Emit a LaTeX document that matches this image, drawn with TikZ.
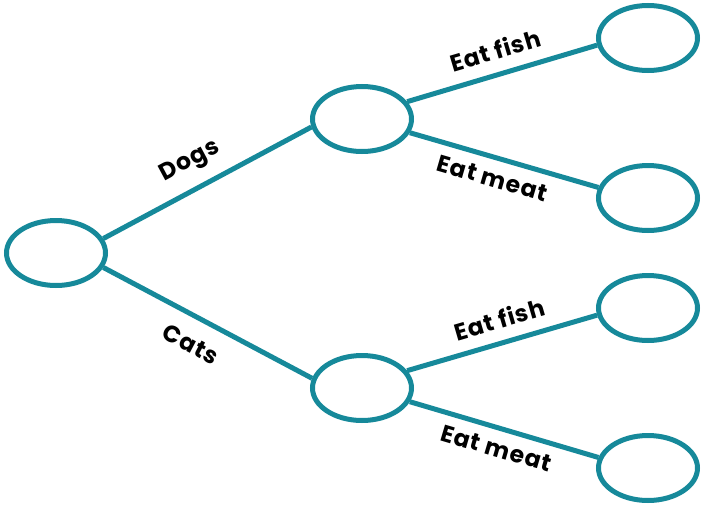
\documentclass[tikz,border=0pt]{standalone}
\usepackage{fontspec}
\newfontfamily\lblfont[LetterSpace=4]{Poppins}
\usetikzlibrary{shapes.geometric}
\definecolor{teal1}{RGB}{22,137,154}
\begin{document}
\begin{tikzpicture}[x=1pt,y=-1pt,
  oval/.style={draw=teal1,ellipse,line width=5pt,minimum width=99pt,minimum height=65pt,inner sep=0pt},
  edge/.style={draw=teal1,line width=5pt},
  lbl/.style={font=\lblfont\bfseries\fontsize{23.5}{26}\selectfont,text=black,sloped,inner sep=0pt}]
\useasboundingbox (0,0) rectangle (702,506);
\node[oval] (r) at (56,253) {};
\node[oval] (m1) at (362,119) {};
\node[oval] (m2) at (362,388) {};
\node[oval] (l1) at (648,38) {};
\node[oval] (l2) at (648,198) {};
\node[oval] (l3) at (648,308) {};
\node[oval] (l4) at (648,468) {};
\path[edge] (r.17) -- node[lbl,above=12.5pt,pos=0.48] (tDogs) {Dogs} (m1.189);
\path[edge] (r.-17) -- node[lbl,below=16pt,pos=0.48] (tCats) {Cats} (m2.169);
\path[edge] (m1.21) -- node[lbl,above=12pt,pos=0.5] (tf1) {Eat fish} (l1.188);
\path[edge] (m1.-16) -- node[lbl,below=10pt,pos=0.47] (tm1) {Eat meat} (l2.168);
\path[edge] (m2.21) -- node[lbl,above=11.5pt,pos=0.52] (tf2) {Eat fish} (l3.188);
\path[edge] (m2.-16) -- node[lbl,below=9.5pt,pos=0.49] (tm2) {Eat meat} (l4.168);
\end{tikzpicture}
\end{document}
